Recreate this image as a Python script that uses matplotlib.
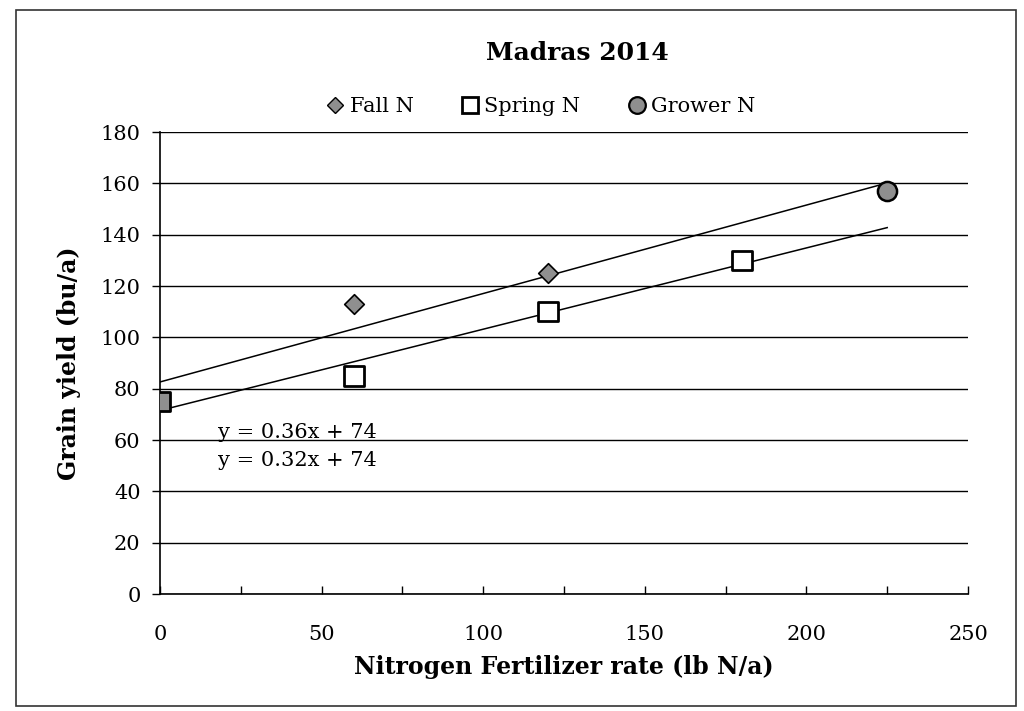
import matplotlib

matplotlib.use("Agg")
import matplotlib.pyplot as plt
import numpy as np
from matplotlib.lines import Line2D
from matplotlib.patches import Rectangle
from matplotlib.ticker import MultipleLocator

plt.rcParams["font.family"] = ["DejaVu Serif"]

# yields (bu/a)
fall_x = [0, 60, 120]
fall_y = [75, 113, 125]
spring_x = [0, 60, 120, 180]
spring_y = [75, 85, 110, 130]
grower_x = [225]
grower_y = [157]

eq_upper = "y = 0.36x + 74"
eq_lower = "y = 0.32x + 74"

GREY = "#8f8f8f"

fig = plt.figure(figsize=(10.24, 7.11), dpi=100)
fig.patch.set_facecolor("white")
ax = fig.add_axes([160 / 1024, 1 - 594 / 711, (968 - 160) / 1024, (594 - 132) / 711])

# linear trendlines, drawn out to the last N rate
x_end = max(grower_x)
xs = np.array([0, x_end])
upper = np.polyfit(fall_x + grower_x, fall_y + grower_y, 1)
lower = np.polyfit(spring_x, spring_y, 1)
ax.plot(xs, np.polyval(upper, xs), color="black", lw=1.1, zorder=2)
ax.plot(xs, np.polyval(lower, xs), color="black", lw=1.1, zorder=2)

spring_face = [GREY if x == 0 else "white" for x in spring_x]
ax.scatter(spring_x, spring_y, marker="s", s=200, facecolors=spring_face,
           edgecolors="black", linewidths=2.0, zorder=3)
ax.scatter(fall_x[1:], fall_y[1:], marker="D", s=100, facecolors=GREY,
           edgecolors="black", linewidths=1.2, zorder=4)
ax.scatter(grower_x, grower_y, marker="o", s=190, facecolors=GREY,
           edgecolors="black", linewidths=1.8, zorder=4)

ax.set_xlim(0, 250)
ax.set_ylim(0, 180)
ax.xaxis.set_major_locator(MultipleLocator(50))
ax.xaxis.set_minor_locator(MultipleLocator(25))
ax.yaxis.set_major_locator(MultipleLocator(20))
ax.grid(axis="y", color="black", lw=1.0)
ax.set_axisbelow(True)
for side in ("top", "right"):
    ax.spines[side].set_visible(False)
for side in ("left", "bottom"):
    ax.spines[side].set_linewidth(1.2)
ax.tick_params(axis="x", which="both", direction="in", length=6, width=1, pad=22, labelsize=15)
ax.tick_params(axis="y", direction="out", length=6, width=1, pad=8, labelsize=15)

ax.set_xlabel("Nitrogen Fertilizer rate (lb N/a)", fontsize=17, fontweight="bold", labelpad=8)
ax.set_ylabel("Grain yield (bu/a)", fontsize=17, fontweight="bold", labelpad=14)

ax.text(18, 63, eq_upper, fontsize=15, va="center")
ax.text(18, 52, eq_lower, fontsize=15, va="center")

fig.text(577 / 1024, 1 - 53 / 711, "Madras 2014", ha="center", va="center",
         fontsize=18, fontweight="bold")

handles = [
    Line2D([], [], ls="none", marker="D", ms=8, mfc=GREY, mec="black", mew=1.0),
    Line2D([], [], ls="none", marker="s", ms=12, mfc="white", mec="black", mew=2.0),
    Line2D([], [], ls="none", marker="o", ms=12, mfc=GREY, mec="black", mew=1.6),
]
fig.legend(handles, ["Fall N", "Spring N", "Grower N"], loc="center",
           bbox_to_anchor=(540 / 1024, 1 - 107 / 711), ncol=3, frameon=False,
           fontsize=15, handletextpad=0.2, columnspacing=2.2, handlelength=1.0)

# outer chart border
fig.add_artist(Rectangle((16 / 1024, 1 - 706 / 711), (1016 - 16) / 1024, (706 - 10) / 711,
                         transform=fig.transFigure, fill=False, ec="#333333", lw=1.2))

fig.savefig("out.png", dpi=100)
